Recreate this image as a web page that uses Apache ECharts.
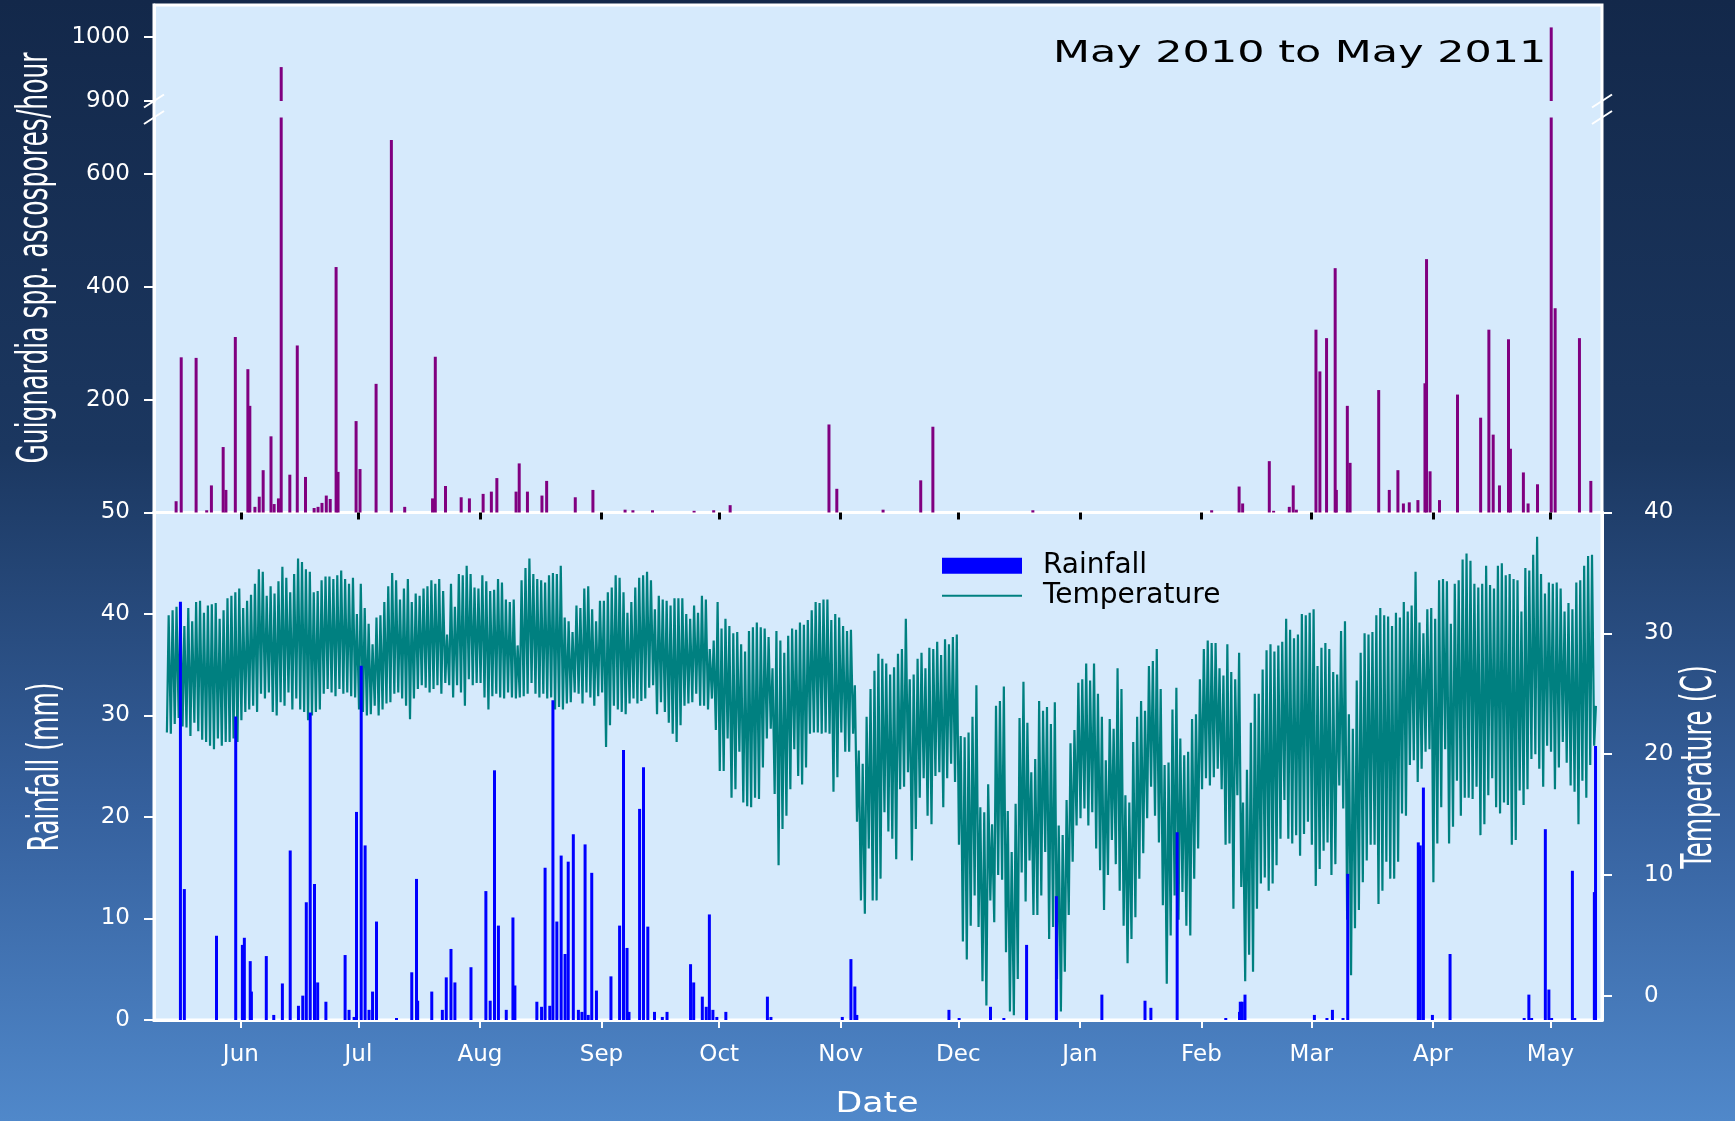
<!DOCTYPE html>
<html>
<head>
<meta charset="utf-8">
<title>Guignardia ascospores, rainfall and temperature, May 2010 to May 2011</title>
<script src="https://cdn.jsdelivr.net/npm/echarts@6/dist/echarts.min.js"></script>
<style>
  html, body { margin: 0; padding: 0; }
  #chart {
    width: 1735px;
    height: 1121px;
    background: linear-gradient(to bottom, #13284a 0%, #1b3760 40%, #35609d 72%, #5088ca 100%);
  }
</style>
</head>
<body>
<div id="chart"></div>
<script>
// all positions on the time axis are days counted from 13 May 2010 (first record)
const START = new Date(2010, 4, 13).getTime();
const DAY = 86400000;

const monthStarts = ["2010-06-01", "2010-07-01", "2010-08-01", "2010-09-01", "2010-10-01", "2010-11-01",
  "2010-12-01", "2011-01-01", "2011-02-01", "2011-03-01", "2011-04-01", "2011-05-01"];
const monthLabels = ["Jun", "Jul", "Aug", "Sep", "Oct", "Nov", "Dec", "Jan", "Feb", "Mar", "Apr", "May"];

const sporeTicksUpper = [900, 1000];
const sporeTicksLower = [200, 400, 600];
const rainTicks = [0, 10, 20, 30, 40, 50];
const tempTicks = [0, 10, 20, 30, 40];

// ascospores per hour (spikes)
const sporeDay = [2.5, 3.8, 7.6, 10.3, 11.5, 14.5, 15.2, 17.6, 20.8, 21.3, 22.6, 23.7, 24.7, 26.7, 27.5, 28.6,
  29.3, 31.5, 33.4, 35.5, 37.7, 38.7, 39.7, 40.8, 41.8, 43.3, 43.8, 48.4, 49.4, 53.5, 57.4, 60.8, 67.9, 68.6,
  71.2, 75.2, 77.3, 80.8, 82.9, 84.3, 89.2, 90.0, 92.1, 95.8, 97.0, 104.3, 108.8, 117.0, 119.0, 124.0, 134.6,
  139.6, 143.8, 169.0, 171.0, 182.8, 192.4, 195.5, 221.0, 266.6, 273.6, 274.5, 281.3, 282.4, 286.4, 287.4,
  288.2, 293.2, 294.2, 295.9, 298.1, 298.4, 301.2, 301.9, 309.2, 311.9, 314.1, 315.5, 317.0, 319.2, 321.0,
  321.4, 322.3, 324.7, 329.3, 335.2, 337.3, 338.4, 340.0, 342.3, 342.8, 346.1, 347.3, 349.7, 353.2, 354.2,
  360.4, 363.3];
const sporeCount = [20, 275, 274, 4, 48, 116, 40, 311, 254, 189, 10, 28, 75, 135, 15, 25,
  953, 67, 296, 63, 8, 10, 17, 30, 24, 435, 72, 162, 77, 228, 660, 10, 25, 276,
  47, 27, 25, 33, 37, 61, 37, 87, 37, 30, 56, 27, 40, 5, 4, 4, 3,
  4, 13, 156, 42, 5, 57, 152, 4, 4, 46, 16, 91, 3, 10, 48,
  5, 324, 250, 309, 433, 40, 189, 88, 217, 40, 75, 16, 18, 22, 229,
  449, 73, 22, 209, 168, 324, 138, 48, 307, 113, 71, 16, 50, 1015, 362,
  309, 56];

// rainfall (mm)
const rainDay = [3.6, 4.6, 12.8, 17.7, 19.4, 19.9, 21.4, 21.7, 25.5, 27.4, 29.6, 31.6, 33.7, 34.8, 35.7, 36.7,
  37.8, 38.6, 40.7, 45.6, 46.6, 47.9, 48.5, 49.7, 50.7, 51.7, 52.6, 53.6, 58.7, 62.6, 63.8, 64.1, 67.7, 70.4,
  71.4, 72.6, 73.6, 77.7, 81.5, 82.6, 83.7, 84.7, 86.7, 88.4, 88.9, 94.5, 95.7, 96.6, 97.8, 98.6, 99.6, 100.7,
  101.7, 102.5, 103.8, 105.1, 106.0, 106.8, 107.6, 108.5, 109.7, 113.4, 115.6, 116.6, 117.5, 118.0, 120.7,
  121.7, 122.8, 124.5, 126.5, 127.7, 133.7, 134.5, 136.7, 137.7, 138.5, 139.4, 140.4, 142.7, 153.3, 154.2,
  172.4, 174.6, 175.6, 176.1, 199.6, 202.2, 210.2, 213.6, 219.4, 227.0, 238.6, 249.6, 251.1, 257.8, 270.2,
  273.7, 273.9, 274.4, 275.1, 292.8, 296.0, 297.4, 300.1, 301.3, 319.3, 319.8, 320.6, 322.9, 327.4, 346.3,
  347.5, 348.2, 351.7, 352.6, 353.3, 358.6, 359.2, 364.2, 364.5];
const rainMm = [41.2, 12.9, 8.3, 29.9, 7.4, 8.1, 5.8, 2.8, 6.3, 0.5, 3.6, 16.7, 1.4, 2.4, 11.6, 30.3,
  13.4, 3.7, 1.8, 6.4, 1.0, 0.3, 20.5, 34.9, 17.2, 1.0, 2.8, 9.7, 0.2, 4.7, 13.9, 1.9, 2.8, 1.0,
  4.2, 7.0, 3.7, 5.2, 12.7, 1.9, 24.6, 9.3, 1.0, 10.1, 3.4, 1.8, 1.3, 15.0, 1.4, 31.5, 9.7, 16.2,
  6.5, 15.6, 18.3, 1.0, 0.8, 17.3, 0.5, 14.5, 2.9, 4.3, 9.3, 26.6, 7.1, 0.8, 20.8,
  24.9, 9.2, 0.8, 0.3, 0.8, 5.5, 3.7, 2.3, 1.3, 10.4, 1.0, 0.3, 0.8, 2.3, 0.3,
  0.3, 6.0, 3.3, 0.5, 1.0, 0.2, 1.3, 0.2, 7.4, 12.2, 2.5, 1.9, 1.2, 18.5, 0.2,
  0.8, 1.8, 1.8, 2.5, 0.5, 0.2, 1.0, 0.2, 14.4, 17.5, 17.2, 22.9, 0.5, 6.5, 0.2,
  2.5, 0.2, 18.8, 3.0, 0.2, 14.7, 0.2, 12.6, 27.0];

// daily temperature maximum and minimum (C), one value per day from 13 May 2010
const tempMax = [
  31.5, 31.9, 32.2, 32.4, 30.6, 32.1, 31.0, 32.6, 32.7, 31.7, 32.3, 32.4, 32.5, 31.2, 31.9, 32.9, 33.1, 33.4, 33.7, 32.1,
  32.7, 33.2, 34.1, 35.3, 35.1, 33.1, 33.9, 33.3, 34.3, 35.5, 34.6, 33.4, 34.9, 36.2, 35.9, 35.3, 35.1, 33.4, 33.5, 34.4,
  34.7, 34.7, 34.5, 34.8, 35.2, 34.5, 34.1, 34.6, 31.6, 34.1, 32.1, 30.8, 29.1, 31.3, 31.5, 32.6, 33.9, 35.0, 34.4, 32.8,
  33.7, 34.5, 32.6, 33.3, 33.1, 33.7, 33.9, 34.4, 34.1, 34.5, 33.5, 29.9, 34.1, 32.2, 34.9, 34.8, 35.6, 34.9, 33.8, 33.7,
  34.8, 34.3, 33.5, 33.6, 34.5, 34.2, 32.8, 32.6, 32.8, 29.0,
  34.4, 35.4, 36.2, 34.9, 34.5, 34.4, 34.2, 34.8, 35.0, 34.9, 35.6, 31.3, 31.0, 30.1, 32.3, 32.1, 33.7, 33.9, 32.0, 31.0,
  32.7, 32.7, 33.4, 33.8, 34.8, 34.6, 33.4, 31.7, 32.6, 33.8, 34.6, 34.8, 35.1, 34.4, 32.0, 33.1, 32.8, 32.7, 32.3, 32.9,
  32.9, 32.9, 31.6, 31.2, 32.3, 31.7, 33.1, 32.8, 28.7, 29.4, 32.6, 30.4, 31.2, 30.6, 30.0, 30.1, 29.1, 28.5, 30.2, 30.5,
  30.9, 30.5, 30.4, 29.7, 27.1, 30.2, 29.4, 28.4, 29.8, 30.4, 30.3, 30.9, 30.7, 31.1, 31.9, 32.6, 32.5, 32.8, 32.8, 31.1,
  31.6, 31.3, 30.6, 30.2, 30.3, 25.7, 20.3, 19.2, 23.1, 25.4, 26.9, 28.3,
  27.9, 27.5, 26.6, 27.2, 28.3, 28.7, 31.2, 26.2, 26.6, 27.9, 28.4, 27.1, 28.8, 28.7, 29.3, 28.2, 29.5, 29.1, 29.7,
  29.9, 21.5, 21.4, 21.8, 23.1, 25.7, 15.6, 15.2, 17.5, 14.2, 24.0, 24.4, 25.6, 15.3, 11.9, 15.9, 23.0, 26.0, 22.6, 18.5,
  19.6, 24.4, 23.6, 23.9, 22.5, 24.3, 14.1, 13.3, 16.2, 20.9, 22.0, 25.9, 26.2, 27.5, 26.1, 27.5, 25.0, 23.1, 19.5, 22.9,
  22.1, 27.1, 25.4, 16.6, 16.0, 21.0, 23.1, 24.4, 23.6, 27.3, 27.7, 28.7, 25.4, 19.1, 19.3, 23.7, 25.5, 21.3, 19.9, 20.2,
  22.9, 23.3, 26.2, 28.7, 29.4, 29.2, 29.2, 27.1, 26.5, 29.1, 26.8, 26.2, 28.4,
  16.0, 18.7, 22.6, 25.0, 25.0, 27.0, 28.6, 29.1, 28.5, 29.0, 29.3, 31.2, 30.3, 29.6, 29.9, 31.6, 31.5, 31.7, 32.0, 27.3,
  28.8, 29.2, 28.7, 26.8, 26.6, 30.2, 31.0, 23.3, 22.1, 26.1, 28.4, 30.0, 29.9, 30.1, 31.5, 32.1, 31.5, 31.4, 30.6, 31.7,
  31.3, 32.6, 31.8, 32.3, 35.1, 30.9, 30.0, 32.0, 32.1, 31.2, 34.4, 34.5, 34.3, 30.8, 34.1, 34.4, 36.1, 36.6, 36.0, 34.1,
  33.8, 34.1, 35.6, 34.0, 33.7, 35.6, 35.8, 34.8, 34.9, 34.5, 34.4, 31.8, 35.4, 35.2, 36.5, 38.0, 34.9, 33.3, 34.2, 34.1,
  34.2, 33.7, 31.8, 32.5, 32.0, 34.2, 34.4, 35.6, 36.4, 36.5, 24.0];
const tempMin = [
  21.8, 21.7, 22.5, 23.0, 22.3, 22.2, 21.5, 22.6, 21.9, 21.2, 21.0, 20.7, 20.4, 21.3, 20.7, 21.0, 21.0, 21.3, 21.0, 22.8,
  23.5, 23.7, 24.0, 23.5, 25.0, 24.6, 25.1, 23.5, 23.2, 24.3, 24.0, 25.1, 23.7, 24.6, 23.7, 23.5, 22.8, 23.2, 23.5, 23.7,
  25.0, 25.4, 25.1, 24.8, 25.4, 25.0, 25.1, 24.8, 24.7, 23.7, 23.5, 23.2, 23.3, 24.0, 23.2, 23.7, 24.2, 24.3, 25.0, 25.1,
  24.6, 24.0, 22.9, 24.6, 25.4, 25.7, 25.5, 25.1, 25.4, 25.7, 25.0, 25.9, 25.7, 24.7, 25.7, 25.1, 24.0, 26.2, 25.7, 25.9,
  25.9, 24.7, 23.7, 24.8, 25.0, 24.7, 24.6, 25.1, 24.7, 24.6,
  24.7, 24.8, 25.0, 25.9, 25.0, 24.7, 25.0, 24.6, 24.7, 23.7, 23.9, 23.7, 24.2, 24.3, 25.1, 25.0, 24.2, 25.1, 24.7, 24.0,
  24.8, 25.1, 20.6, 22.4, 24.0, 23.7, 23.5, 23.3, 24.2, 24.6, 24.2, 24.4, 24.6, 25.5, 25.7, 23.3, 24.3, 23.5, 22.6, 21.7,
  21.0, 22.4, 24.0, 24.2, 24.3, 25.0, 24.0, 24.0, 23.7, 24.6, 22.0, 18.6, 18.6, 21.3, 16.4, 17.1, 20.2, 16.0, 15.7, 15.6,
  16.4, 16.3, 18.9, 21.3, 22.1, 16.7, 10.8, 13.8, 14.9, 17.1, 20.4, 18.2, 17.5, 18.9, 21.7, 21.8, 21.8, 21.7, 21.8, 21.7,
  16.9, 18.1, 21.8, 20.2, 20.2, 21.7, 14.4, 7.9, 6.8, 12.2, 7.9, 7.9,
  9.7, 15.2, 13.6, 13.0, 11.3, 17.1, 17.3, 18.5, 11.2, 13.8, 16.4, 18.0, 14.9, 14.2, 18.2, 18.5, 15.6, 18.0, 19.2,
  17.7, 12.5, 4.5, 3.0, 5.8, 8.3, 5.7, 1.2, -0.8, 7.9, 6.1, 10.0, 9.6, 3.6, -1.3, -1.6, 1.4, 10.2, 7.8, 11.2,
  6.7, 6.7, 8.3, 11.9, 4.7, 5.7, 1.4, -1.3, 2.0, 6.7, 11.1, 14.1, 14.7, 15.5, 14.1, 15.2, 12.2, 10.4, 7.1, 10.0,
  12.9, 10.9, 8.7, 5.8, 2.7, 4.7, 6.5, 9.7, 11.8, 14.7, 17.3, 14.9, 12.7, 7.5, 1.0, 5.0, 8.3, 6.3, 8.6, 5.8,
  5.0, 9.7, 12.2, 17.1, 18.0, 17.4, 18.1, 18.8, 17.1, 12.5, 12.6, 7.2, 16.6,
  9.0, 1.2, 3.4, 2.0, 7.2, 9.3, 9.8, 8.7, 9.3, 10.8, 13.0, 16.2, 13.0, 12.6, 13.3, 11.6, 13.4, 14.4, 12.5, 9.1,
  10.5, 12.0, 12.7, 10.0, 10.9, 17.4, 15.5, 6.3, 1.7, 5.6, 7.1, 9.4, 11.2, 12.5, 12.5, 7.6, 8.7, 11.1, 9.7, 9.7,
  11.1, 15.1, 14.9, 19.1, 19.5, 17.7, 18.8, 20.2, 20.4, 9.4, 12.6, 15.6, 20.4, 12.6, 14.0, 17.8, 14.9, 16.4, 16.4, 16.3,
  17.3, 13.3, 14.2, 16.6, 18.0, 15.6, 15.1, 16.0, 15.8, 12.5, 12.9, 17.0, 15.8, 17.1, 19.6, 20.0, 18.8, 17.3, 20.7, 20.2,
  17.1, 18.9, 21.0, 19.3, 17.4, 16.9, 14.2, 17.8, 16.4, 19.1, 20.7];

// layout (px)
const PLOT_LEFT = 154, PLOT_RIGHT = 1602;
const TOP = 5, BREAK_HI = 101, BREAK_LO = 117.5, SPLIT = 512.5, BOTTOM = 1020;
const PLOT_W = PLOT_RIGHT - PLOT_LEFT;
const PLOT_BG = "#d6eafc";
const FONT = "DejaVu Sans";

function localTime(s) {
  const p = s.split("-").map(Number);
  return new Date(p[0], p[1] - 1, p[2]).getTime();
}
const atDay = d => START + d * DAY;

const monthTimes = monthStarts.map(localTime);
const xMin = atDay(-3.14);
const xMax = atDay(366.15);

const sporeData = sporeDay.map((d, i) => [atDay(d), sporeCount[i]]);
const rainData = rainDay.map((d, i) => [atDay(d), rainMm[i]]);
const tempData = [];
tempMin.forEach((v, i) => {
  tempData.push([atDay(i + 0.15), v]);
  tempData.push([atDay(i + 0.6), tempMax[i]]);
});

const whiteLine = { show: true, lineStyle: { color: "#fff", width: 3 } };
const tickLabel = { color: "#fff", fontSize: 23, fontFamily: FONT, formatter: v => String(v) };

function yAxisFor(gridIndex, min, max, ticks, extra) {
  return Object.assign({
    type: "value",
    gridIndex: gridIndex,
    min: min,
    max: max,
    z: 3,
    axisLine: whiteLine,
    axisTick: { show: true, length: 10, customValues: ticks, lineStyle: { color: "#fff", width: 2 } },
    axisLabel: Object.assign({ customValues: ticks, margin: 24 }, tickLabel),
    splitLine: { show: false }
  }, extra || {});
}

// the date axes are plain value axes holding timestamps, so that ticks can sit on month starts
function monthName(v) {
  const i = monthTimes.indexOf(v);
  return i >= 0 ? monthLabels[i] : "";
}

const chart = echarts.init(document.getElementById("chart"), null, { renderer: "canvas" });

const breakMark = (x, y) => ({
  type: "line", z: 10,
  shape: { x1: x - 10, y1: y + 6.5, x2: x + 10, y2: y - 6.5 },
  style: { stroke: "#fff", lineWidth: 2 }
});
const label = (text, x, y, size, opts) => Object.assign({
  type: "text", z: 10, x: x, y: y,
  style: {
    text: text, fill: opts.fill || "#fff", font: size + 'px "' + FONT + '"',
    align: opts.align || "center", textAlign: opts.align || "center",
    verticalAlign: "middle", textVerticalAlign: "middle"
  }
}, opts.transform || {});

chart.setOption({
  animation: false,
  backgroundColor: "transparent",
  grid: [
    { left: PLOT_LEFT, width: PLOT_W, top: TOP, height: BREAK_HI - TOP, outerBoundsMode: "none" },
    { left: PLOT_LEFT, width: PLOT_W, top: BREAK_LO, height: SPLIT - BREAK_LO, outerBoundsMode: "none" },
    { left: PLOT_LEFT, width: PLOT_W, top: SPLIT, height: BOTTOM - SPLIT, outerBoundsMode: "none",
      show: true, backgroundColor: PLOT_BG, borderColor: "#fff", borderWidth: 3 }
  ],
  xAxis: [
    { type: "value", gridIndex: 0, min: xMin, max: xMax, show: false },
    { type: "value", gridIndex: 1, min: xMin, max: xMax, z: 5,
      axisLine: { show: false },
      axisTick: { show: true, length: 7, customValues: monthTimes, lineStyle: { color: "#000", width: 3 } },
      axisLabel: { show: false },
      splitLine: { show: false } },
    { type: "value", gridIndex: 2, min: xMin, max: xMax, z: 3,
      axisLine: whiteLine,
      axisTick: { show: true, length: 8, customValues: monthTimes, lineStyle: { color: "#fff", width: 2 } },
      axisLabel: {
        customValues: monthTimes, margin: 24, fontSize: 23, color: "#fff", fontFamily: FONT,
        formatter: monthName
      },
      splitLine: { show: false } }
  ],
  yAxis: [
    yAxisFor(0, 900, 1050, sporeTicksUpper),
    yAxisFor(1, 0, 700, sporeTicksLower),
    yAxisFor(2, 0, 50, rainTicks, { interval: 10 }),
    yAxisFor(2, -2, 40, tempTicks, {
      position: "right",
      axisLabel: Object.assign({ customValues: tempTicks, margin: 42 }, tickLabel)
    })
  ],
  legend: {
    data: [
      { name: "Rainfall", icon: "rect" },
      // plain line in the key: hide the marker that the line series adds
      { name: "Temperature", itemStyle: { color: "rgba(0,0,0,0)", borderColor: "rgba(0,0,0,0)", borderWidth: 0 } }
    ],
    orient: "vertical",
    left: 941, top: 551.7, padding: 0,
    itemWidth: 80, itemHeight: 16, itemGap: 2,
    selectedMode: false,
    lineStyle: { width: 2 },
    textStyle: { color: "#000", fontSize: 28, fontFamily: FONT, padding: [0, 0, 0, 16] }
  },
  series: [
    { name: "Guignardia spp. ascospores", type: "bar", xAxisIndex: 0, yAxisIndex: 0, data: sporeData,
      barWidth: 3, clip: true, silent: true, itemStyle: { color: "#800080" } },
    { name: "Guignardia spp. ascospores", type: "bar", xAxisIndex: 1, yAxisIndex: 1, data: sporeData,
      barWidth: 3, clip: true, silent: true, itemStyle: { color: "#800080" } },
    { name: "Temperature", type: "line", xAxisIndex: 2, yAxisIndex: 3, data: tempData, z: 3,
      symbol: "none", showSymbol: false, clip: true,
      lineStyle: { color: "#008080", width: 2.2 }, itemStyle: { color: "#008080" } },
    { name: "Rainfall", type: "bar", xAxisIndex: 2, yAxisIndex: 2, data: rainData, z: 4,
      barWidth: 3, clip: true, itemStyle: { color: "#0000ff" } }
  ],
  graphic: [
    { type: "rect", z: 0, z2: -10,
      shape: { x: PLOT_LEFT, y: TOP, width: PLOT_W, height: SPLIT - TOP },
      style: { fill: PLOT_BG, stroke: "#fff", lineWidth: 3 } },
    breakMark(PLOT_LEFT, BREAK_HI), breakMark(PLOT_LEFT, BREAK_LO),
    breakMark(PLOT_RIGHT, BREAK_HI), breakMark(PLOT_RIGHT, BREAK_LO),
    label("May 2010 to May 2011", 1053, 54, 30, { fill: "#000", align: "left", transform: { scaleX: 1.43 } }),
    label("Guignardia spp. ascospores/hour", 36, 258, 25, { transform: { rotation: Math.PI / 2, scaleY: 1.7 } }),
    label("Rainfall (mm)", 47, 767, 25, { transform: { rotation: Math.PI / 2, scaleY: 1.7 } }),
    label("Temperature (C)", 1700, 767, 25, { transform: { rotation: Math.PI / 2, scaleY: 1.7 } }),
    label("Date", 877, 1105, 28, { transform: { scaleX: 1.24 } })
  ]
});
</script>
</body>
</html>
